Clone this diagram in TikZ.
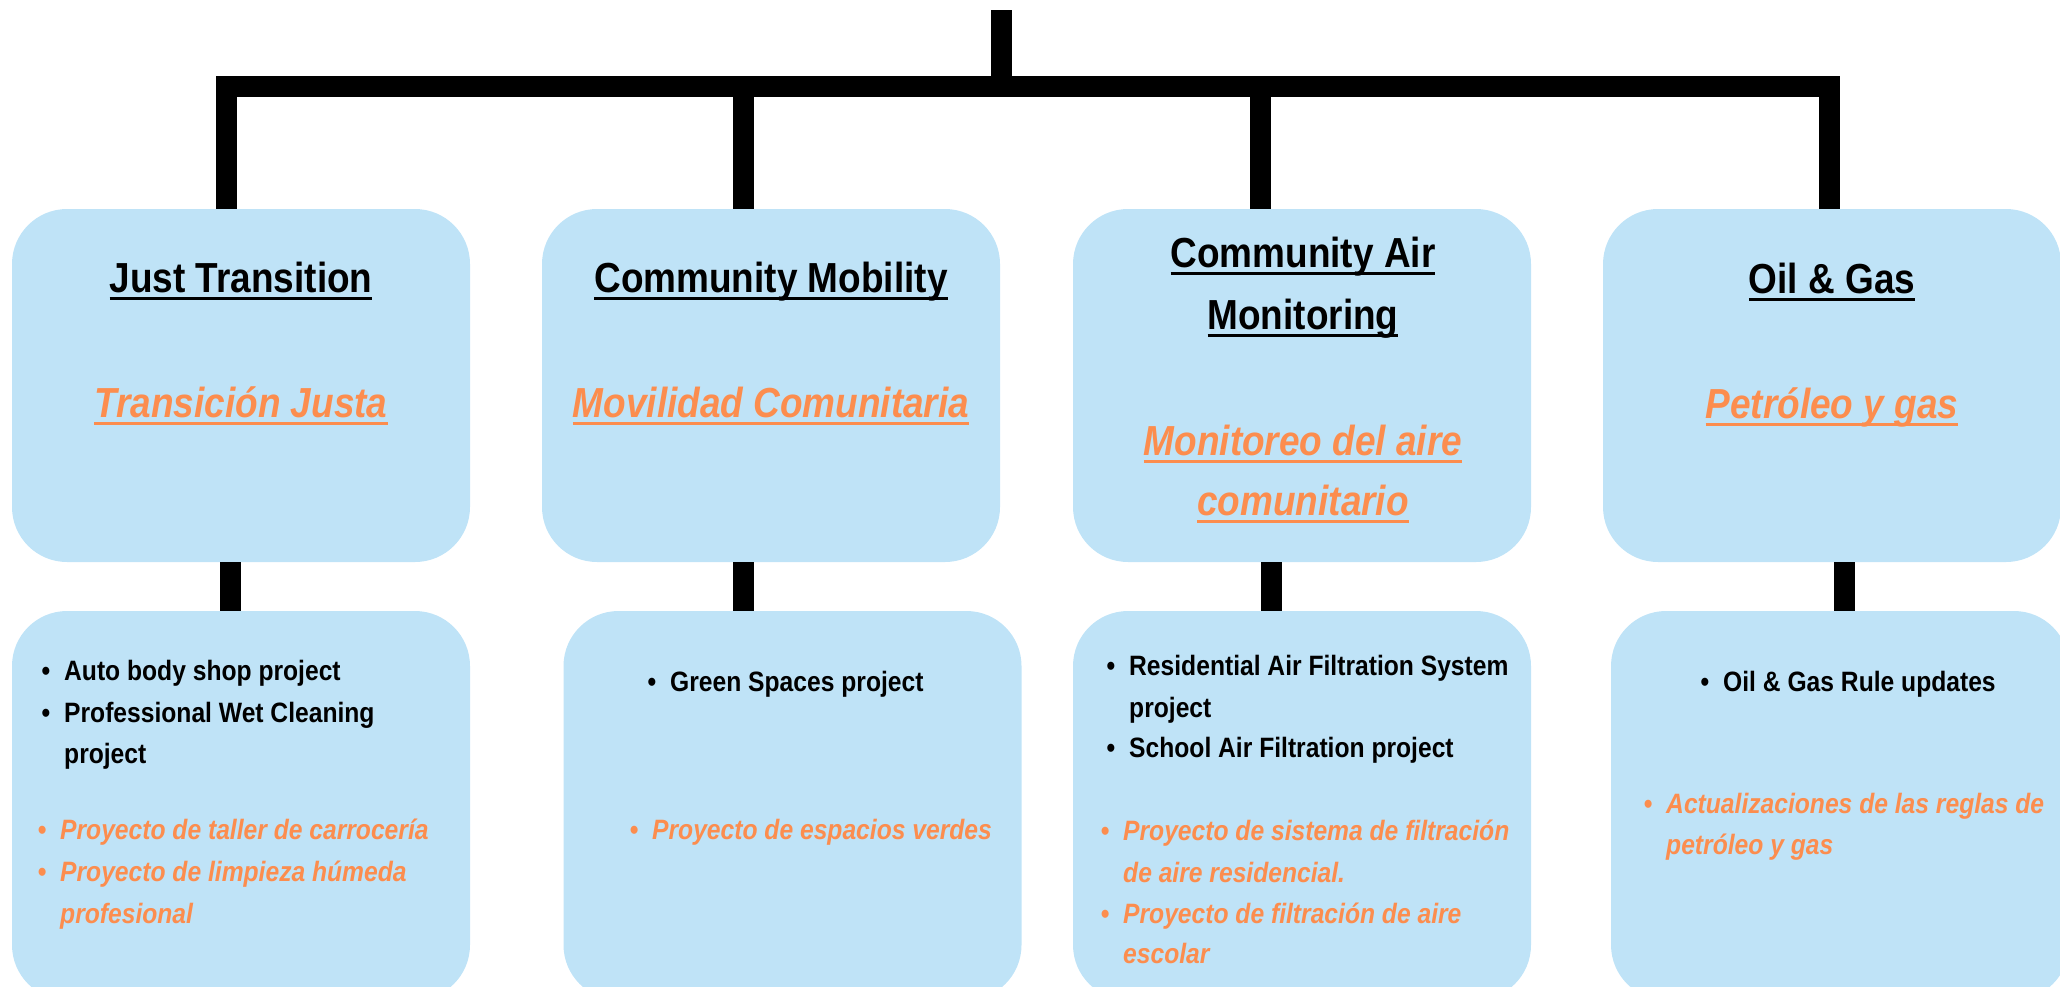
\documentclass[tikz,border=0pt]{standalone}
\usepackage{fontspec}
\setmainfont{Liberation Sans}[FakeStretch=0.88]
\usetikzlibrary{calc}
\definecolor{boxblue}{RGB}{191,227,247}
\definecolor{esorange}{RGB}{252,141,78}
\newcommand{\uln}[1]{\setbox0\hbox{#1}\rlap{\rule[-8pt]{\wd0}{3.5pt}}\box0}
\newcommand{\headline}[3]{\node(#1)[head] at (#2) {\uln{#3}}}
\newcommand{\esheadline}[3]{\node(#1)[eshead] at (#2) {\uln{#3}}}
\newcommand{\enline}[3]{\node(#1)[item] at (#2) {#3}}
\newcommand{\esline}[3]{\node(#1)[esitem] at (#2) {#3}}
\newcommand{\bul}{\llap{\textbullet\hspace{14pt}}}

\begin{document}
\begin{tikzpicture}[
        x=1pt, y=-1pt,
        topbox/.style={rectangle,fill=boxblue,rounded corners=55pt,inner sep=0pt,
                       minimum width=458pt,minimum height=353pt},
        subbox/.style={topbox,minimum height=389pt},
        head/.style={anchor=base,inner sep=0pt,font=\fontsize{42}{50}\selectfont\bfseries},
        eshead/.style={head,text=esorange,font=\fontsize{42}{50}\selectfont\bfseries\itshape},
        item/.style={anchor=base west,inner sep=0pt,font=\fontsize{28}{34}\selectfont\bfseries},
        esitem/.style={item,text=esorange,font=\fontsize{28}{34}\selectfont\bfseries\itshape},
        conn/.style={line width=21pt,draw=black}
      ]
      \useasboundingbox (0,0) rectangle (2060,986);
      \clip (0,0) rectangle (2060,986);

      % program areas
      \node(jt)[topbox] at (241,385.5) {};
      \node(cm)[topbox] at (771,385.5) {};
      \node(cam)[topbox] at (1302,385.5) {};
      \node(og)[topbox] at (1832,385.5) {};
      % projects
      \node(jtp)[subbox] at (241,805.5) {};
      \node(cmp)[subbox] at (792.5,805.5) {};
      \node(camp)[subbox] at (1302,805.5) {};
      \node(ogp)[subbox] at (1840,805.5) {};

      \coordinate (title) at (1001,10);
      \coordinate (bar) at (1001,86);
      \draw[conn] (title) -- (bar);
      \draw[conn] ([xshift=-15pt]jt.north) |- (bar) -| ([xshift=-3pt]og.north);
      \draw[conn] ([xshift=-28pt]cm.north) |- (bar);
      \draw[conn] ([xshift=-42pt]cam.north) |- (bar);
      \draw[conn] ([xshift=-11pt]jt.south) -- ([xshift=-11pt]jtp.north);
      \draw[conn] ([xshift=-28pt]cm.south) -- ([xshift=-49.5pt]cmp.north);
      \draw[conn] ([xshift=-31pt]cam.south) -- ([xshift=-31pt]camp.north);
      \draw[conn] ([xshift=12pt]og.south) -- ([xshift=4pt]ogp.north);

      \headline{jt1}{241,292}{Just Transition};
      \esheadline{jt2}{241,417}{Transición Justa};
      \headline{cm1}{771,292}{Community Mobility};
      \esheadline{cm2}{771,417}{Movilidad Comunitaria};
      \headline{cam1}{1303,267}{Community Air};
      \headline{cam2}{1303,329}{Monitoring};
      \esheadline{cam3}{1303,455}{Monitoreo del aire};
      \esheadline{cam4}{1303,515}{comunitario};
      \headline{og1}{1832,293}{Oil \& Gas};
      \esheadline{og2}{1832,418}{Petróleo y gas};

      \enline{jtp1}{64,680}{\bul Auto body shop project};
      \enline{jtp2}{64,722}{\bul Professional Wet Cleaning};
      \enline{jtp3}{64,763}{project};
      \esline{jtp4}{60,839}{\bul Proyecto de taller de carrocería};
      \esline{jtp5}{60,881}{\bul Proyecto de limpieza húmeda};
      \esline{jtp6}{60,923}{profesional};

      \enline{cmp1}{670,691}{\bul Green Spaces project};
      \esline{cmp2}{652,839}{\bul Proyecto de espacios verdes};

      \enline{camp1}{1129,675}{\bul Residential Air Filtration System};
      \enline{camp2}{1129,717}{project};
      \enline{camp3}{1129,757}{\bul School Air Filtration project};
      \esline{camp4}{1123,840}{\bul Proyecto de sistema de filtración};
      \esline{camp5}{1123,882}{de aire residencial.};
      \esline{camp6}{1123,923}{\bul Proyecto de filtración de aire};
      \esline{camp7}{1123,963}{escolar};

      \enline{ogp1}{1723,691}{\bul Oil \& Gas Rule updates};
      \esline{ogp2}{1666,813}{\bul Actualizaciones de las reglas de};
      \esline{ogp3}{1666,854}{petróleo y gas};
\end{tikzpicture}
\end{document}
